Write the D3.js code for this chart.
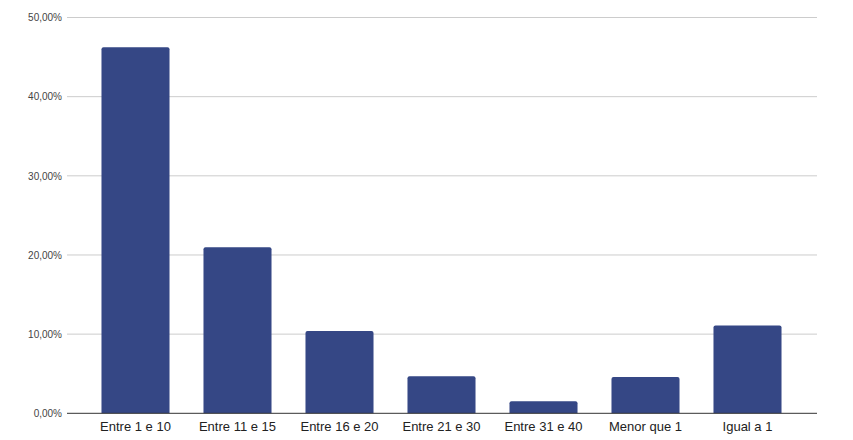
<!DOCTYPE html>
<html>
<head>
<meta charset="utf-8">
<script src="https://cdn.jsdelivr.net/npm/d3@7"></script>
<style>
  html, body { margin: 0; padding: 0; background: #fff; }
  svg { display: block; font-family: "Liberation Sans", Arial, sans-serif; }
</style>
</head>
<body>
<svg id="chart" width="853" height="440"></svg>
<script>
const categories = ["Entre 1 e 10", "Entre 11 e 15", "Entre 16 e 20", "Entre 21 e 30", "Entre 31 e 40", "Menor que 1", "Igual a 1"];
const values = [46.24, 20.97, 10.40, 4.67, 1.52, 4.59, 11.10];
const yTicks = [0, 10, 20, 30, 40, 50];

const svg = d3.select("#chart");
const gridLeft = 67, gridRight = 817;
const plotTop = 17.5, plotBottom = 413.3;

const x = d3.scaleBand().domain(categories).range([84.5, 798.5]).paddingInner(0.333).paddingOuter(0.1665);
const y = d3.scaleLinear().domain([0, 50]).range([plotBottom, plotTop]);

const fmt = v => d3.format(".2f")(v).replace(".", ",") + "%";

// gridlines
svg.append("g").selectAll("line").data(yTicks.filter(t => t > 0)).join("line")
  .attr("x1", gridLeft).attr("x2", gridRight)
  .attr("y1", d => y(d)).attr("y2", d => y(d))
  .attr("stroke", "#cccccc").attr("stroke-width", 1);

// y axis labels
const yAxis = d3.axisLeft(y).tickValues(yTicks).tickFormat(fmt).tickSize(0).tickPadding(5);
const ya = svg.append("g").attr("transform", `translate(${gridLeft},0)`).call(yAxis);
ya.select(".domain").remove();
ya.selectAll("text").attr("font-size", 10).attr("fill", "#444").attr("font-family", "Liberation Sans, Arial, sans-serif");

// bars with rounded top corners
const r = 2;
svg.append("g").selectAll("path").data(values).join("path")
  .attr("fill", "#354785")
  .attr("d", (d, i) => {
    const x0 = x(categories[i]), w = x.bandwidth();
    const yt = y(d), yb = y(0);
    return `M${x0},${yb}V${yt + r}Q${x0},${yt} ${x0 + r},${yt}H${x0 + w - r}Q${x0 + w},${yt} ${x0 + w},${yt + r}V${yb}Z`;
  });

// baseline
svg.append("line").attr("x1", gridLeft).attr("x2", gridRight)
  .attr("y1", y(0)).attr("y2", y(0)).attr("stroke", "#333").attr("stroke-width", 1);

// x axis labels
const xAxis = d3.axisBottom(x).tickSize(0).tickPadding(8);
const xa = svg.append("g").attr("transform", `translate(0,${plotBottom})`).call(xAxis);
xa.select(".domain").remove();
xa.selectAll("text").attr("font-size", 13).attr("fill", "#222").attr("font-family", "Liberation Sans, Arial, sans-serif");
</script>
</body>
</html>
